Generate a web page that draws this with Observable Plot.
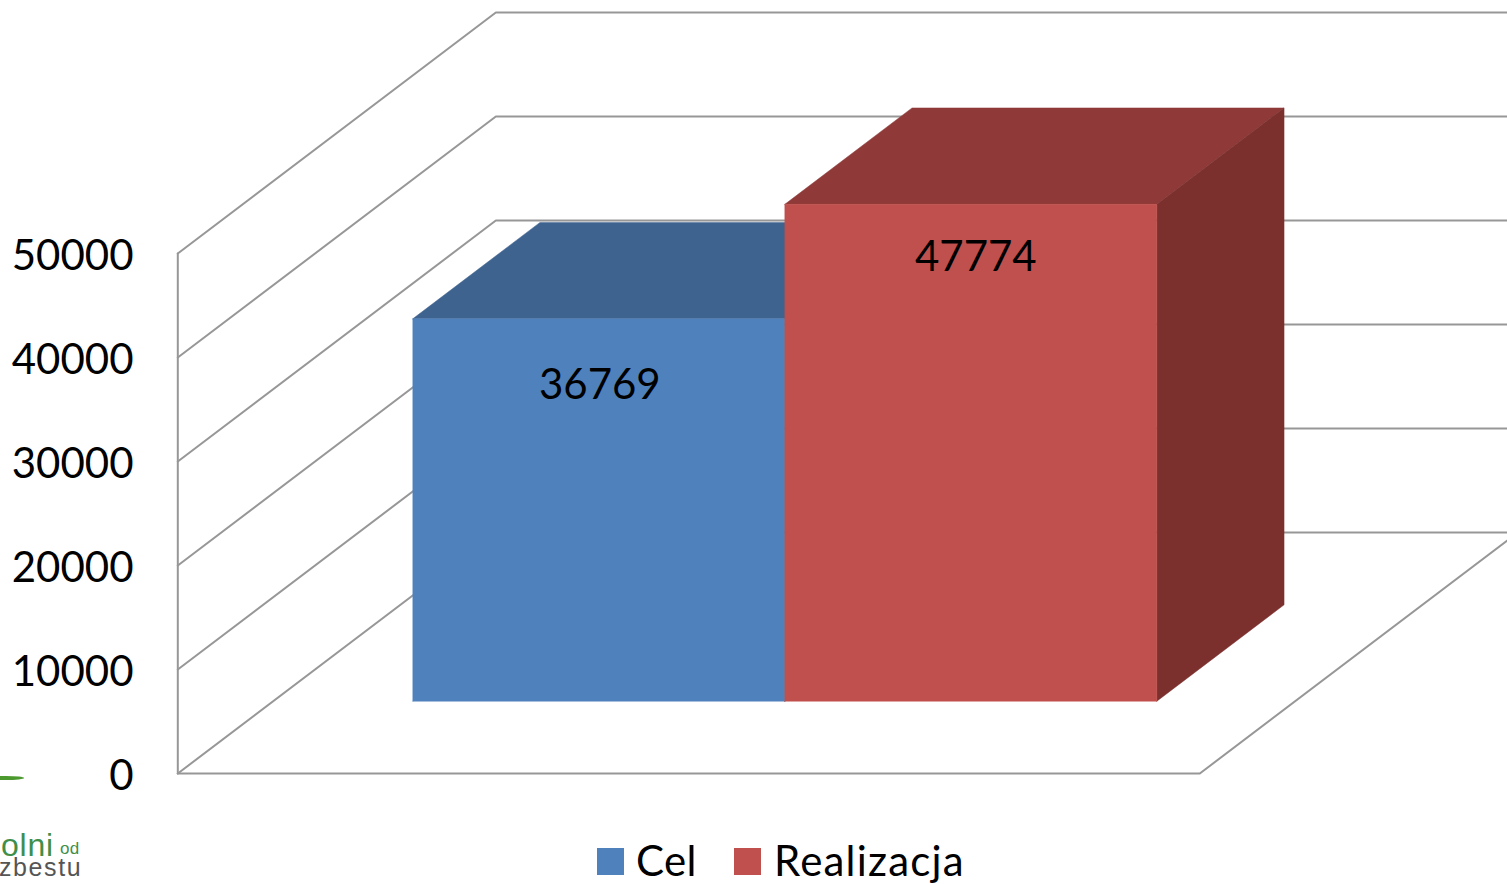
<!DOCTYPE html>
<html lang="pl">
<head>
<meta charset="utf-8">
<script src="https://cdn.jsdelivr.net/npm/d3@7"></script>
<script src="https://cdn.jsdelivr.net/npm/@observablehq/plot@0.6"></script>
<style>
  html, body { margin: 0; padding: 0; background: #fff; overflow: hidden; }
  #page { position: relative; width: 1507px; height: 884px; overflow: hidden; font-family: Lato, "Open Sans", sans-serif; }
  #chart svg { display: block; }
  #foot { position: relative; height: 54px; }
  .lg { position: absolute; color: #000; font-size: 42px; line-height: 54px; top: 3px; white-space: nowrap; }
  .sw { position: absolute; width: 27px; height: 27px; top: 18px; }
  .logo { position: absolute; white-space: nowrap; font-family: "Liberation Sans", sans-serif; }
</style>
</head>
<body>
<div id="page">
  <div id="chart"></div>
  <div id="foot"></div>
  <div class="logo" style="left:-12px;top:776px;width:36px;height:4px;border-radius:50%;background:#4c9a2f"></div>
</div>
<script>
// ---- data ----
const seriesNames = ["Cel", "Realizacja"];
const seriesValues = [36769, 47774];
const axisTicks = [0, 10000, 20000, 30000, 40000, 50000];

// ---- styling ----
const frontColors = ["#4F81BD", "#C0504D"];
const topColors = ["#3E638F", "#8F3A38"];
const sideColors = ["#325274", "#7B302E"];
const gridColor = "#979797";
const font = "Lato, 'Open Sans', sans-serif";

// ---- oblique 3-D projection expressed in scale units ----
const depthT = 0.3112;      // horizontal shift of the full depth, in x-domain units
const depthV = 23173;       // vertical shift of the full depth, in value units
const barDepth = [0.3, 0.7];
const barEdges = [[0.1366, 0.5006], [0.5006, 0.8646]];
const labelNudge = [{dx: 1, dy: 67}, {dx: 5, dy: 53}];
const project = (t, v, d) => ({x: t + d * depthT, y: v + d * depthV});

// ---- wall grid: left wall diagonal, then the back wall ----
const gridLines = axisTicks.flatMap(v => [
  {...project(0, v, 0), v},
  {...project(0, v, 1), v},
  {...project(1, v, 1), v}
]);
const leftEdge = [project(0, 0, 0), project(0, axisTicks[axisTicks.length - 1], 0)];
const floorEdge = [project(0, 0, 0), project(1, 0, 0), project(1, 0, 1)];

// ---- one box per series, as three faces ----
const faceMarks = seriesValues.flatMap((v, i) => {
  const [a, b] = barEdges[i];
  const [d0, d1] = barDepth;
  const front = [project(a, 0, d0), project(b, 0, d0), project(b, v, d0), project(a, v, d0)];
  const top = [project(a, v, d0), project(b, v, d0), project(b, v, d1), project(a, v, d1)];
  const side = [project(b, 0, d0), project(b, 0, d1), project(b, v, d1), project(b, v, d0)];
  const face = (pts, c) => Plot.line([...pts, pts[0]], {x: "x", y: "y", fill: c, stroke: c, strokeWidth: 0.5});
  return [face(top, topColors[i]), face(side, sideColors[i]), face(front, frontColors[i])];
});

const labelMarks = seriesValues.map((v, i) => {
  const p = project((barEdges[i][0] + barEdges[i][1]) / 2, v, barDepth[0]);
  return Plot.text([String(v)], {
    x: () => p.x, y: () => p.y, text: d => d,
    dx: labelNudge[i].dx, dy: labelNudge[i].dy,
    fill: "#000", fontSize: 42, fontFamily: font, lineAnchor: "middle"
  });
});

const chart = Plot.plot({
  width: 1507,
  height: 830,
  margin: 0,
  marginLeft: 178,
  style: {background: "#fff", fontFamily: font, overflow: "hidden"},
  x: {type: "linear", domain: [0, 1], range: [177.3, 1199.3], axis: null},
  y: {type: "linear", domain: [0, 50000], range: [773, 253], label: null},
  marks: [
    Plot.line(gridLines, {x: "x", y: "y", z: "v", stroke: gridColor, strokeWidth: 2}),
    Plot.line(leftEdge, {x: "x", y: "y", stroke: gridColor, strokeWidth: 2}),
    Plot.line(floorEdge, {x: "x", y: "y", stroke: gridColor, strokeWidth: 2}),
    ...faceMarks,
    ...labelMarks,
    Plot.axisY({
      ticks: axisTicks, tickSize: 0, tickPadding: 45, anchor: "left", label: null,
      tickFormat: d => String(d), fontSize: 42, fontFamily: font, fill: "#000", dy: 3.5
    })
  ]
});
document.getElementById("chart").append(chart);

// ---- legend and logo below the SVG ----
const foot = document.getElementById("foot");
const legendPos = [{sw: 597, tx: 636, spacing: 0.4}, {sw: 734, tx: 774, spacing: 1.2}];
seriesNames.forEach((name, i) => {
  const s = document.createElement("div");
  s.className = "sw";
  s.style.left = legendPos[i].sw + "px";
  s.style.background = frontColors[i];
  const t = document.createElement("div");
  t.className = "lg";
  t.style.left = legendPos[i].tx + "px";
  t.style.letterSpacing = legendPos[i].spacing + "px";
  t.textContent = name;
  foot.append(s, t);
});
const logoParts = [
  {text: "olni", left: 1, top: 3, size: 32, lh: 24, color: "#3f8f4a", spacing: 0.8},
  {text: "od", left: 60, top: 12, size: 17, lh: 14, color: "#3f8f4a", spacing: 0.3},
  {text: "zbestu", left: -1, top: 27, size: 25, lh: 20, color: "#555", spacing: 1.6}
];
logoParts.forEach(p => {
  const d = document.createElement("div");
  d.className = "logo";
  d.textContent = p.text;
  Object.assign(d.style, {left: p.left + "px", top: p.top + "px", fontSize: p.size + "px", color: p.color, letterSpacing: p.spacing + "px", lineHeight: p.lh + "px"});
  foot.append(d);
});
</script>
</body>
</html>
